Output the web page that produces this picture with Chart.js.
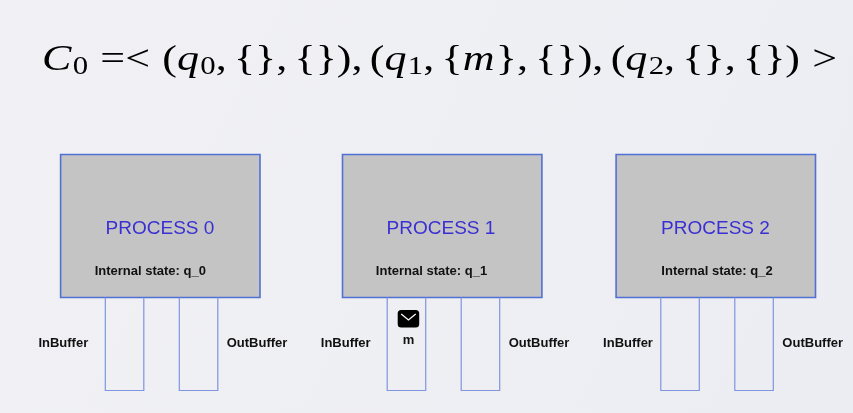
<!DOCTYPE html>
<html>
<head>
<meta charset="utf-8">
<script src="https://cdn.jsdelivr.net/npm/chart.js@4.4.0/dist/chart.umd.min.js"></script>
<style>
  html, body { margin: 0; padding: 0; background: #eff0f4; overflow: hidden; }
  #wrap { width: 853px; height: 413px; }
</style>
</head>
<body>
<div id="wrap"><canvas id="c" width="853" height="413"></canvas></div>
<script>
// ---------------- data ----------------
const PROCESS_LABELS = ['PROCESS 0', 'PROCESS 1', 'PROCESS 2'];
const INTERNAL_STATES = ['q_0', 'q_1', 'q_2'];
const IN_BUFFERS = [[], ['m'], []];
const OUT_BUFFERS = [[], [], []];
const BUFFER_NAMES = ['InBuffer', 'OutBuffer'];
const CONFIGURATION = 'C_0 =< (q_0, {}, {}), (q_1, {m}, {}), (q_2, {}, {}) >';

// ---------------- layout (scale units = page pixels) ----------------
const LAYOUT = {
  boxCenter: [160.3, 442.2, 715.8],
  boxHalfW: 99.7, boxTop: 154.5, boxBottom: 297.5,
  inOffset: -55, outOffset: 19, bufW: 38.5, bufBottom: 390.5,
  titleX: [160, 441, 715.5], titleY: 234,
  stateX: [150.3, 431.5, 717], stateY: 275,
  inLabelX: [63.3, 345.7, 628], outLabelX: [257, 539, 812.7], labelY: 346.5,
  formulaLeft: 42, formulaRight: 837, formulaBaseline: 70, formulaSize: 36
};
const STYLE = {
  boxFill: '#c4c4c4', boxBorder: '#5070d4', bufBorder: '#7f95de',
  titleColor: '#3a2fd2', textColor: '#111111'
};

// ---------------- datasets ----------------
const datasets = [];
PROCESS_LABELS.forEach((name, i) => {
  const c = LAYOUT.boxCenter[i];
  [LAYOUT.inOffset, LAYOUT.outOffset].forEach((off, k) => {
    const l = c + off, r = l + LAYOUT.bufW;
    datasets.push({
      label: name + ' ' + BUFFER_NAMES[k],
      data: [{x: l, y: LAYOUT.boxBottom}, {x: l, y: LAYOUT.bufBottom},
             {x: r, y: LAYOUT.bufBottom}, {x: r, y: LAYOUT.boxBottom}],
      showLine: true, fill: false, pointRadius: 0,
      borderColor: STYLE.bufBorder, borderWidth: 1.2,
      borderJoinStyle: 'miter', tension: 0
    });
  });
});
PROCESS_LABELS.forEach((name, i) => {
  const c = LAYOUT.boxCenter[i];
  const l = c - LAYOUT.boxHalfW, r = c + LAYOUT.boxHalfW;
  const t = LAYOUT.boxTop, b = LAYOUT.boxBottom;
  datasets.push({
    label: name,
    data: [{x: l, y: t}, {x: r, y: t}, {x: r, y: b}, {x: l, y: b}, {x: l, y: t}, {x: r, y: t}],
    showLine: true, fill: 'shape', backgroundColor: STYLE.boxFill, pointRadius: 0,
    borderColor: STYLE.boxBorder, borderWidth: 1.6,
    borderJoinStyle: 'miter', tension: 0
  });
});

// ---------------- formula rendering ----------------
function formulaTokens(src) {
  const toks = [];
  for (let i = 0; i < src.length; i++) {
    const ch = src[i];
    if (ch === ' ') continue;
    if (ch === '_') { toks.push({t: src[i + 1], cls: 'sub'}); i++; continue; }
    let cls = 'ord';
    if ('=<>'.includes(ch)) cls = 'rel';
    else if ('({'.includes(ch)) cls = 'open';
    else if (')}'.includes(ch)) cls = 'close';
    else if (ch === ',') cls = 'punct';
    toks.push({t: ch, cls, italic: /[A-Za-z]/.test(ch)});
  }
  return toks;
}
function spacing(a, b, em) {
  const thin = em / 6, thick = em * 5 / 18;
  if (a === 'punct') return thin;
  if (a === 'rel' && b !== 'rel' && b !== 'punct' && b !== 'close') return thick;
  if (b === 'rel' && a !== 'rel' && a !== 'open' && a !== 'punct') return thick;
  return 0;
}
function drawFormula(ctx, x0, x1, base, em) {
  const toks = formulaTokens(CONFIGURATION);
  const fontMain = em + 'px "Liberation Serif", "DejaVu Serif", serif';
  const fontIt = 'italic ' + fontMain;
  const fontSub = (em * 0.7) + 'px "Liberation Serif", "DejaVu Serif", serif';
  let x = 0, prev = null;
  const placed = [];
  toks.forEach(tk => {
    if (tk.cls === 'sub') {
      ctx.font = fontSub;
      placed.push({t: tk.t, x: x, font: fontSub, dy: em * 0.12});
      x += ctx.measureText(tk.t).width;
      return;
    }
    if (prev) x += spacing(prev, tk.cls, em);
    const f = tk.italic ? fontIt : fontMain;
    ctx.font = f;
    placed.push({t: tk.t, x: x, font: f, dy: 0});
    x += ctx.measureText(tk.t).width + (tk.italic ? em * 0.03 : 0);
    prev = tk.cls;
  });
  const sx = (x1 - x0) / x;
  ctx.save();
  ctx.fillStyle = '#000';
  ctx.textBaseline = 'alphabetic';
  ctx.textAlign = 'left';
  ctx.translate(x0, base);
  ctx.scale(sx, 1);
  placed.forEach(p => { ctx.font = p.font; ctx.fillText(p.t, p.x, p.dy); });
  ctx.restore();
}

// ---------------- plugins ----------------
const bgPlugin = {
  id: 'bg',
  beforeDraw(chart) {
    const ctx = chart.ctx;
    const g = ctx.createLinearGradient(0, 0, chart.width, chart.height);
    g.addColorStop(0, '#f1f1f5');
    g.addColorStop(1, '#ecedf2');
    ctx.save(); ctx.fillStyle = g; ctx.fillRect(0, 0, chart.width, chart.height); ctx.restore();
  }
};
const textPlugin = {
  id: 'texts',
  afterDatasetsDraw(chart) {
    const ctx = chart.ctx, xs = chart.scales.x, ys = chart.scales.y;
    const X = v => xs.getPixelForValue(v), Y = v => ys.getPixelForValue(v);
    ctx.save();
    ctx.textAlign = 'center';
    ctx.textBaseline = 'alphabetic';
    PROCESS_LABELS.forEach((name, i) => {
      ctx.fillStyle = STYLE.titleColor;
      ctx.font = '19px "Liberation Sans", Arial, sans-serif';
      ctx.fillText(name, X(LAYOUT.titleX[i]), Y(LAYOUT.titleY));
      ctx.fillStyle = STYLE.textColor;
      ctx.font = 'bold 13px "Liberation Sans", Arial, sans-serif';
      ctx.fillText('Internal state: ' + INTERNAL_STATES[i], X(LAYOUT.stateX[i]), Y(LAYOUT.stateY));
      ctx.fillText(BUFFER_NAMES[0], X(LAYOUT.inLabelX[i]), Y(LAYOUT.labelY));
      ctx.fillText(BUFFER_NAMES[1], X(LAYOUT.outLabelX[i]), Y(LAYOUT.labelY));
      [[IN_BUFFERS[i], LAYOUT.inOffset], [OUT_BUFFERS[i], LAYOUT.outOffset]].forEach(([msgs, off]) => {
        msgs.forEach((m, k) => {
          const cx = X(LAYOUT.boxCenter[i] + off + LAYOUT.bufW / 2 + 2);
          const top = Y(LAYOUT.boxBottom + 12.5 + k * 40);
          const w = 21.5, h = 17.5, r = 3.5;
          const l = cx - w / 2;
          ctx.fillStyle = '#000';
          ctx.beginPath();
          ctx.roundRect(l, top, w, h, r);
          ctx.fill();
          ctx.strokeStyle = '#fff';
          ctx.lineWidth = 1.3;
          ctx.beginPath();
          ctx.moveTo(l + 3.5, top + 4);
          ctx.lineTo(cx, top + 10);
          ctx.lineTo(l + w - 3.5, top + 4);
          ctx.stroke();
          ctx.fillStyle = STYLE.textColor;
          ctx.font = 'bold 13px "Liberation Sans", Arial, sans-serif';
          ctx.fillText(m, cx, top + 34);
        });
      });
    });
    ctx.restore();
    drawFormula(ctx, X(LAYOUT.formulaLeft), X(LAYOUT.formulaRight), Y(LAYOUT.formulaBaseline), LAYOUT.formulaSize);
  }
};

new Chart(document.getElementById('c'), {
  type: 'scatter',
  data: { datasets },
  options: {
    responsive: false,
    animation: false,
    events: [],
    layout: { padding: 0 },
    plugins: { legend: { display: false }, tooltip: { enabled: false } },
    scales: {
      x: { type: 'linear', min: 0, max: 853, display: false },
      y: { type: 'linear', min: 0, max: 413, reverse: true, display: false }
    }
  },
  plugins: [bgPlugin, textPlugin]
});
</script>
</body>
</html>
